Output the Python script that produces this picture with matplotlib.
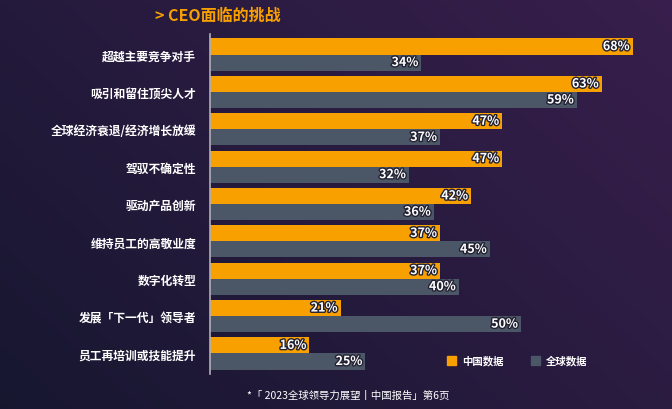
import numpy as np
import matplotlib.pyplot as plt
import matplotlib.patheffects as pe

plt.rcParams['font.family'] = ['Noto Sans CJK SC', 'DejaVu Sans']

categories = ["超越主要竞争对手", "吸引和留住顶尖人才", "全球经济衰退/经济增长放缓", "驾驭不确定性",
              "驱动产品创新", "维持员工的高敬业度", "数字化转型", "发展「下一代」领导者", "员工再培训或技能提升"]
china = [68, 63, 47, 47, 42, 37, 37, 21, 16]
world = [34, 59, 37, 32, 36, 45, 40, 50, 25]

ORANGE = "#f7a000"
GRAY = "#4b5666"

fig = plt.figure(figsize=(6.72, 4.10), dpi=100)

# background gradient
bg = fig.add_axes([0, 0, 1, 1], zorder=0)
xx, yy = np.meshgrid(np.linspace(0, 1, 200), np.linspace(0, 1, 200))
g = np.clip(0.6 * xx + 0.4 * (1 - yy), 0, 1)
c0 = np.array([0.09, 0.09, 0.19])
c1 = np.array([0.22, 0.12, 0.30])
img = c0[None, None, :] * (1 - g[..., None]) + c1[None, None, :] * g[..., None]
bg.imshow(img, aspect="auto", extent=[0, 1, 0, 1], origin="upper")
bg.axis("off")

ax = fig.add_axes([210 / 672, 1 - 375 / 410, 1 - 210 / 672, 340 / 410], zorder=1)
ax.patch.set_alpha(0)
n = len(categories)
y = np.arange(n)
h = 0.43
ax.barh(y - h / 2, china, height=h, color=ORANGE)
ax.barh(y + h / 2, world, height=h, color=GRAY)
ax.set_xlim(0, 74.3)
ax.set_ylim(n - 0.5 + 0.05, -0.5 - 0.05)

stroke = [pe.withStroke(linewidth=2, foreground="#222233")]
for i in range(n):
    ax.text(china[i] - 0.5, y[i] - h / 2, f"{china[i]}%", ha="right", va="center",
            color="white", fontsize=9, fontweight="bold", path_effects=stroke)
    ax.text(world[i] - 0.5, y[i] + h / 2, f"{world[i]}%", ha="right", va="center",
            color="white", fontsize=9, fontweight="bold", path_effects=stroke)

ax.set_yticks(y)
ax.set_yticklabels(categories, color="white", fontsize=8.5, fontweight="bold")
ax.tick_params(axis="y", length=0, pad=10)
ax.set_xticks([])
for s in ["top", "right", "bottom"]:
    ax.spines[s].set_visible(False)
ax.spines["left"].set_color("#b0b0b8")
ax.spines["left"].set_linewidth(1.2)

# legend
fig.patches.append(plt.Rectangle((447 / 672, 1 - 366 / 410), 9 / 672, 9 / 410,
                                 transform=fig.transFigure, color=ORANGE, zorder=3))
fig.text(462 / 672, 1 - 361 / 410, "中国数据", color="white", fontsize=7.5,
         fontweight="bold", va="center")
fig.patches.append(plt.Rectangle((531 / 672, 1 - 366 / 410), 9 / 672, 9 / 410,
                                 transform=fig.transFigure, color=GRAY, zorder=3))
fig.text(546 / 672, 1 - 361 / 410, "全球数据", color="white", fontsize=7.5,
         fontweight="bold", va="center")

fig.text(155 / 672, 1 - 16 / 410, "> CEO面临的挑战", color=ORANGE, fontsize=11.5,
         fontweight="bold", va="center")
fig.text(348 / 672, 1 - 396 / 410, "*「 2023全球领导力展望丨中国报告」第6页", color="white",
         fontsize=7.5, ha="center", va="center")

fig.savefig("out.png", dpi=100)
